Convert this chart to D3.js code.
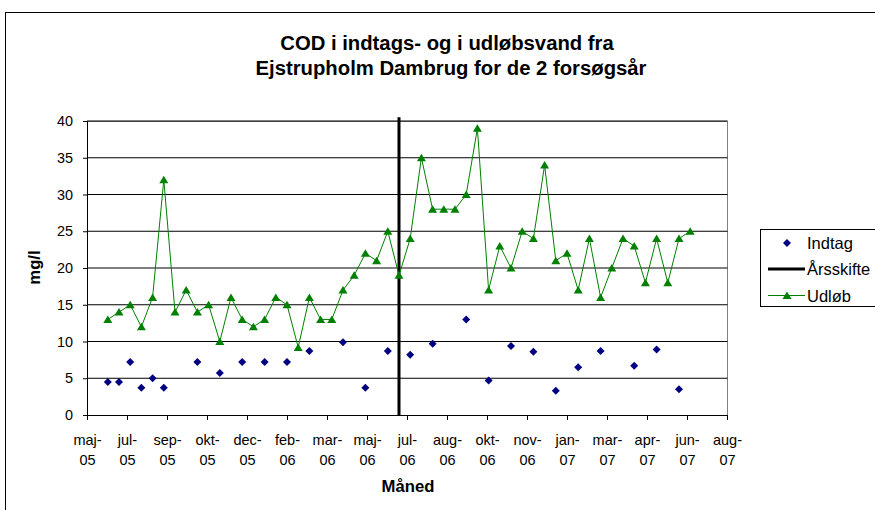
<!DOCTYPE html>
<html>
<head>
<meta charset="utf-8">
<script src="https://cdn.jsdelivr.net/npm/d3@7"></script>
<style>
  body { margin: 0; background: #fff; }
  text { font-family: "Liberation Sans", Arial, sans-serif; fill: #000; }
</style>
</head>
<body>
<div id="chart"></div>
<script>
// sample dates (every other week)
const sampleDates = [
  "2005-06-23", "2005-07-07", "2005-07-21", "2005-08-04", "2005-08-18", "2005-09-01",
  "2005-09-15", "2005-09-29", "2005-10-13", "2005-10-27", "2005-11-10", "2005-11-24",
  "2005-12-08", "2005-12-22", "2006-01-05", "2006-01-19", "2006-02-02", "2006-02-16",
  "2006-03-02", "2006-03-16", "2006-03-30", "2006-04-13", "2006-04-27", "2006-05-11",
  "2006-05-25", "2006-06-08", "2006-06-22", "2006-07-06", "2006-07-20", "2006-08-03",
  "2006-08-17", "2006-08-31", "2006-09-14", "2006-09-28", "2006-10-12", "2006-10-26",
  "2006-11-09", "2006-11-23", "2006-12-07", "2006-12-21", "2007-01-04", "2007-01-18",
  "2007-02-01", "2007-02-15", "2007-03-01", "2007-03-15", "2007-03-29", "2007-04-12",
  "2007-04-26", "2007-05-10", "2007-05-24", "2007-06-07", "2007-06-21"
];

// COD mg/l, intake water (null = no sample)
const indtag = [
  4.5, 4.5, 7.2, 3.7, 5.0, 3.7,
  null, null, 7.2, null, 5.7, null,
  7.2, null, 7.2, null, 7.2, null,
  8.7, null, null, 9.9, null, 3.7,
  null, 8.7, null, 8.2, null, 9.7,
  null, null, 13, null, 4.7, null,
  9.4, null, 8.6, null, 3.3, null,
  6.5, null, 8.7, null, null, 6.7,
  null, 8.9, null, 3.5, null
];

// COD mg/l, outlet water
const udlob = [
  13, 14, 15, 12, 16, 32,
  14, 17, 14, 15, 10, 16,
  13, 12, 13, 16, 15, 9.2,
  16, 13, 13, 17, 19, 22,
  21, 25, 19, 24, 35, 28,
  28, 28, 30, 39, 17, 23,
  20, 25, 24, 34, 21, 22,
  17, 24, 16, 20, 24, 23,
  18, 24, 18, 24, 25
];

// year change marker
const aarsskifteDate = "2006-06-22";
const aarsskifteY = [0, 40.5];

// x axis: starts 2005-05-28, one tick every 50 days
const xAxisStart = "2005-05-28";
const xTickStepDays = 50;
const xTickLabels = [
  ["maj-", "05"], ["jul-", "05"], ["sep-", "05"], ["okt-", "05"], ["dec-", "05"],
  ["feb-", "06"], ["mar-", "06"], ["maj-", "06"], ["jul-", "06"], ["aug-", "06"],
  ["okt-", "06"], ["nov-", "06"], ["jan-", "07"], ["mar-", "07"], ["apr-", "07"],
  ["jun-", "07"], ["aug-", "07"]
];
const yTicks = [0, 5, 10, 15, 20, 25, 30, 35, 40];

const legendItems = ["Indtag", "Årsskifte", "Udløb"];

// ---------------------------------------------------------------
const W = 875, H = 510;
const plot = { left: 87, right: 727, top: 121, bottom: 415 };

const parse = d3.timeParse("%Y-%m-%d");
const start = parse(xAxisStart);
const xTickValues = xTickLabels.map((_, i) => d3.timeDay.offset(start, i * xTickStepDays));

const x = d3.scaleTime()
  .domain([start, xTickValues[xTickValues.length - 1]])
  .range([plot.left, plot.right]);

const y = d3.scaleLinear()
  .domain([0, 40])
  .range([plot.bottom, plot.top]);

const svg = d3.select("#chart").append("svg")
  .attr("width", W)
  .attr("height", H);

// chart area border
svg.append("rect")
  .attr("x", 5.5).attr("y", 12.5)
  .attr("width", 1000).attr("height", 1000)
  .attr("fill", "#fff").attr("stroke", "#000").attr("stroke-width", 1);

// title
const title = svg.append("text")
  .attr("text-anchor", "middle")
  .attr("font-size", 20.3)
  .attr("font-weight", "bold");
title.append("tspan").attr("x", 447).attr("y", 50).text("COD i indtags- og i udløbsvand fra");
title.append("tspan").attr("x", 451).attr("y", 75).text("Ejstrupholm Dambrug for de 2 forsøgsår");

// plot area frame (grey, top and right)
svg.append("rect")
  .attr("x", plot.left + 0.5).attr("y", plot.top + 0.5)
  .attr("width", plot.right - plot.left).attr("height", plot.bottom - plot.top)
  .attr("fill", "none").attr("stroke", "#808080");

// gridlines
svg.append("g")
  .selectAll("line")
  .data(yTicks.filter(d => d > 0))
  .join("line")
    .attr("x1", plot.left).attr("x2", plot.right + 0.5)
    .attr("y1", d => y(d)).attr("y2", d => y(d))
    .attr("stroke", "#000").attr("stroke-width", 1);

// y axis
const yAxis = svg.append("g")
  .attr("transform", `translate(${plot.left},0)`)
  .call(d3.axisLeft(y).tickValues(yTicks).tickSize(4).tickPadding(10).tickFormat(d3.format("d")));
yAxis.select(".domain").attr("stroke", "#000");
yAxis.selectAll("text")
  .attr("font-size", 14.4)
  .attr("font-family", "Liberation Sans, Arial, sans-serif");

// x axis
const xAxis = svg.append("g")
  .attr("transform", `translate(0,${plot.bottom})`)
  .call(d3.axisBottom(x).tickValues(xTickValues).tickSize(5).tickFormat(""));
xAxis.select(".domain").attr("stroke", "#000");
xAxis.selectAll(".tick").each(function (d, i) {
  const t = d3.select(this).append("text")
    .attr("text-anchor", "middle")
    .attr("font-size", 14.5)
    .attr("font-family", "Liberation Sans, Arial, sans-serif")
    .attr("fill", "#000");
  t.append("tspan").attr("x", 0).attr("y", 30).text(xTickLabels[i][0]);
  t.append("tspan").attr("x", 0).attr("y", 50).text(xTickLabels[i][1]);
});

// axis titles
svg.append("text")
  .attr("x", 408).attr("y", 492)
  .attr("text-anchor", "middle")
  .attr("font-size", 16.7).attr("font-weight", "bold")
  .text("Måned");

svg.append("text")
  .attr("transform", `translate(40,267.5) rotate(-90)`)
  .attr("text-anchor", "middle")
  .attr("font-size", 16.7).attr("font-weight", "bold")
  .text("mg/l");

// data
const rows = sampleDates.map((d, i) => ({ date: parse(d), indtag: indtag[i], udlob: udlob[i] }));

const diamond = "M0,-4L4,0L0,4L-4,0Z";
const triangle = "M0,-4L4.5,3.5L-4.5,3.5Z";

// Indtag
svg.append("g")
  .selectAll("path")
  .data(rows.filter(r => r.indtag != null))
  .join("path")
    .attr("d", diamond)
    .attr("transform", r => `translate(${x(r.date)},${y(r.indtag)})`)
    .attr("fill", "#000080");

// Årsskifte
const aarsDate = parse(aarsskifteDate);
svg.append("path")
  .datum(aarsskifteY)
  .attr("d", d3.line().x(() => x(aarsDate)).y(v => y(v)))
  .attr("stroke", "#000").attr("stroke-width", 3).attr("fill", "none");

// Udløb
svg.append("path")
  .datum(rows)
  .attr("d", d3.line().x(r => x(r.date)).y(r => y(r.udlob)))
  .attr("fill", "none").attr("stroke", "#008000").attr("stroke-width", 1);

svg.append("g")
  .selectAll("path")
  .data(rows)
  .join("path")
    .attr("d", triangle)
    .attr("transform", r => `translate(${x(r.date)},${y(r.udlob)})`)
    .attr("fill", "#008000");

// legend
const legend = svg.append("g");
legend.append("rect")
  .attr("x", 760.5).attr("y", 229.5)
  .attr("width", 200).attr("height", 77)
  .attr("fill", "#fff").attr("stroke", "#000");

const legendY = [243, 269, 295.5];
const lx0 = 768, lx1 = 805, lmid = 787;
legend.append("path").attr("d", diamond)
  .attr("transform", `translate(${lmid},${legendY[0]})`).attr("fill", "#000080");
legend.append("line")
  .attr("x1", lx0).attr("x2", lx1).attr("y1", legendY[1]).attr("y2", legendY[1])
  .attr("stroke", "#000").attr("stroke-width", 3);
legend.append("line")
  .attr("x1", lx0).attr("x2", lx1).attr("y1", legendY[2]).attr("y2", legendY[2])
  .attr("stroke", "#008000").attr("stroke-width", 1);
legend.append("path").attr("d", triangle)
  .attr("transform", `translate(${lmid},${legendY[2]})`).attr("fill", "#008000");

legend.selectAll("text.lbl")
  .data(legendItems)
  .join("text")
    .attr("class", "lbl")
    .attr("x", 807)
    .attr("y", (d, i) => legendY[i] + 6)
    .attr("font-size", 16.5)
    .text(d => d);
</script>
</body>
</html>
